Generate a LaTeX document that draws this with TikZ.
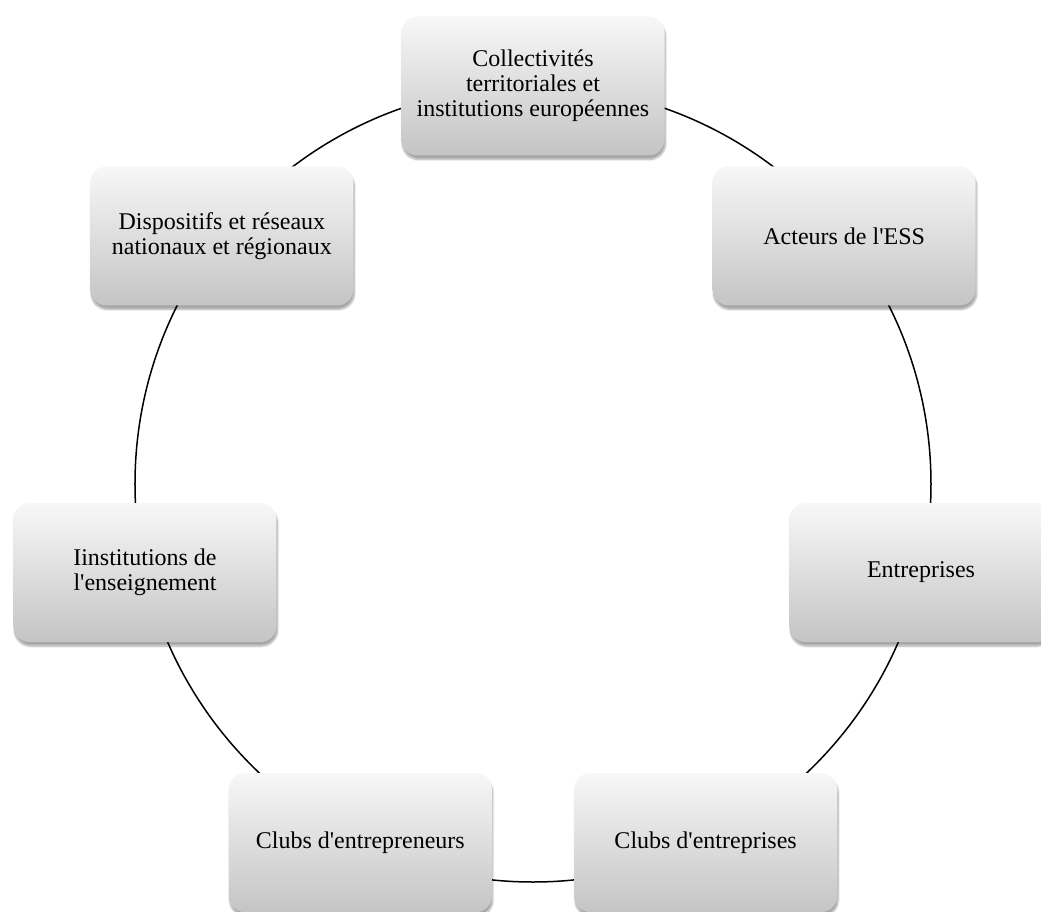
\documentclass[tikz,border=0pt]{standalone}
\usepackage{fontspec}
\setmainfont{Liberation Serif}
\usetikzlibrary{shadows.blur}
\begin{document}
\begin{tikzpicture}[x=1pt,y=1pt,line cap=round,line join=round,
  cyclebox/.style={rectangle,rounded corners=16pt,minimum width=263pt,minimum height=139pt,
    top color=black!3,bottom color=black!23,align=center,
    font=\fontsize{24}{25}\selectfont,
    blur shadow={shadow xshift=1pt,shadow yshift=-4pt,shadow blur steps=8,shadow opacity=35}}]
  \useasboundingbox (-533,-427) rectangle (508,484);
  \coordinate (c) at (0,0);
  \draw[line width=1.5pt] (c) circle (398);
  \node[cyclebox] (coll) at (90:398) {Collectivités\\territoriales et\\institutions européennes};
  \node[cyclebox] (ess) at (38.57:398) {Acteurs de l\textquotesingle ESS};
  \node[cyclebox] (entr) at (-12.86:398) {Entreprises};
  \node[cyclebox] (cent) at (-64.29:398) {Clubs d\textquotesingle entreprises};
  \node[cyclebox] (cpre) at (-115.71:398) {Clubs d\textquotesingle entrepreneurs};
  \node[cyclebox] (ens) at (-167.14:398) {Iinstitutions de\\l\textquotesingle enseignement};
  \node[cyclebox] (disp) at (141.43:398) {Dispositifs et réseaux\\nationaux et régionaux};
\end{tikzpicture}
\end{document}
